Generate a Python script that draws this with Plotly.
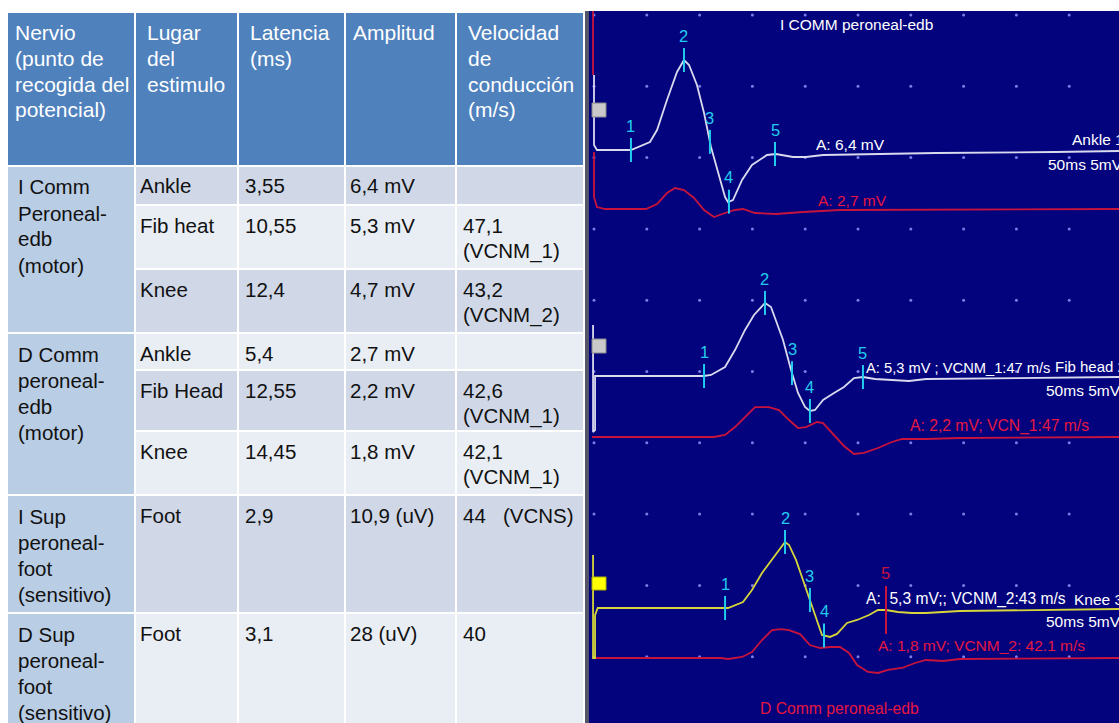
import numpy as np
import plotly.graph_objects as go

W, H = 1119, 723
FONT = "Liberation Sans, Arial, sans-serif"

# ---------------- Table data ----------------
header_labels = ["Nervio\n(punto de\nrecogida del\npotencial)", "Lugar\ndel\nestimulo",
                 "Latencia\n(ms)", "Amplitud", "Velocidad\nde\nconducción\n(m/s)"]
nerve_groups = ["I Comm\nPeroneal-\nedb\n(motor)", "D Comm\nperoneal-\nedb\n(motor)",
                "I Sup\nperoneal-\nfoot\n(sensitivo)", "D Sup\nperoneal-\nfoot\n(sensitivo)"]
group_sizes = [3, 3, 1, 1]
stim_sites = ["Ankle", "Fib heat", "Knee", "Ankle", "Fib Head", "Knee", "Foot", "Foot"]
latency_ms = ["3,55", "10,55", "12,4", "5,4", "12,55", "14,45", "2,9", "3,1"]
amplitude = ["6,4 mV", "5,3 mV", "4,7 mV", "2,7 mV", "2,2 mV", "1,8 mV", "10,9 (uV)", "28 (uV)"]
velocity = ["", "47,1\n(VCNM_1)", "43,2\n(VCNM_2)", "", "42,6\n(VCNM_1)", "42,1\n(VCNM_1)",
            "44\u00a0\u00a0\u00a0(VCNS)", "40"]

# ---------------- EMG traces: time (ms), amplitude (mV, relative to baseline) ----------------
# I COMM peroneal-edb, Ankle (white)
w1_art_t = [0.0, 0.0]
w1_art_v = [5.26, 0.35]
w1_t = [0.28, 3.50, 5.30, 5.97, 6.91, 7.86, 8.52, 9.00, 9.75, 10.42, 11.08, 11.74, 12.41, 12.69,
        13.16, 14.02, 14.96, 16.38, 17.23, 18.84, 20.08, 21.69, 27.56, 32.39, 43.66, 49.72]
w1_v = [0.0, 0.0, 0.56, 1.40, 3.51, 5.47, 6.31, 5.96, 4.56, 2.59, 0.21, -1.61, -3.30, -3.65,
        -3.51, -2.10, -1.05, -0.35, -0.28, -0.49, -0.49, -0.35, -0.28, -0.21, -0.14, -0.07]
w1_marks = [3.50, 8.52, 10.98, 12.78, 17.14]

# D Comm peroneal-edb, Ankle (red)
r1_top_t = [-0.09, -0.09]
r1_top_v = [13.88, 9.40]
r1_art_t = [0.0, 0.0, 0.28]
r1_art_v = [4.0, 0.84, 0.14]
r1_t = [1.04, 4.92, 5.97, 6.91, 7.67, 8.52, 9.47, 10.42, 11.36, 12.41, 13.35, 14.11, 15.25,
        17.23, 19.79, 23.30, 49.72]
r1_v = [0.0, 0.0, 0.35, 1.12, 1.47, 1.33, 0.77, -0.07, -0.56, -0.28, -0.07, 0.0, -0.28,
        -0.35, -0.21, -0.07, 0.0]

# I COMM, Fib head (white)
w2_art_t = [-0.09, -0.09, 0.10, 0.10]
w2_art_v = [3.58, -3.93, -3.80, 0.0]
w2_t = [0.30, 10.42, 11.08, 12.41, 13.35, 14.30, 15.15, 15.72, 16.19, 16.76, 17.23, 17.90, 18.66,
        19.32, 19.98, 20.45, 20.93, 21.69, 22.73, 23.67, 24.62, 25.47, 26.61, 28.22, 29.83,
        31.44, 49.72]
w2_v = [0.0, 0.0, 0.07, 0.63, 1.82, 3.23, 4.28, 4.77, 5.12, 4.84, 3.93, 2.52, 0.42,
        -1.19, -2.17, -2.45, -2.38, -1.68, -1.19, -0.77, -0.14, -0.07, -0.21, -0.28, -0.35,
        -0.21, -0.07]
w2_marks = [10.42, 16.19, 18.75, 20.45, 25.47]

# D Comm, Fib head (red)
r2_t = [-0.19, 10.13, 11.36, 12.41, 13.35, 14.30, 15.25, 16.57, 17.52, 18.47, 19.32, 20.08,
        21.12, 21.69, 22.73, 23.67, 24.62, 25.57, 26.89, 28.22, 29.17, 31.44, 34.66, 49.72]
r2_v = [0.0, 0.0, 0.0, 0.14, 0.70, 1.40, 2.10, 2.10, 1.89, 1.19, 0.63, 0.70,
        1.05, 0.98, 0.14, -0.63, -1.19, -1.12, -0.77, -0.35, -0.14, -0.14, -0.07, 0.0]

# I COMM, Knee (yellow)
y3_art_t = [-0.09, -0.09, 0.10, 0.10]
y3_art_v = [3.72, -3.51, -3.51, -0.50]
y3_t = [0.35, 12.41, 12.69, 14.11, 14.96, 15.91, 16.86, 17.71, 18.09, 18.47, 19.13, 19.79,
        20.45, 21.12, 21.59, 22.35, 23.01, 23.96, 24.91, 26.04, 26.89, 27.65, 28.79, 30.11,
        31.44, 34.66, 41.10, 49.72]
y3_v = [0.0, 0.0, 0.0, 0.42, 1.26, 2.45, 3.37, 4.21, 4.63, 4.42, 3.37, 1.96,
        0.56, -0.84, -1.89, -2.03, -1.82, -1.05, -0.84, -0.49, -0.14, -0.14, -0.28, -0.35,
        -0.35, -0.21, -0.14, -0.07]
y3_marks = [12.41, 18.09, 20.45, 21.78, 27.65]

# D Comm, Knee (red)
r3_t = [0.10, 12.03, 12.69, 14.02, 14.96, 15.91, 16.86, 17.71, 18.47, 19.51, 20.45, 21.40,
        22.35, 23.30, 24.15, 24.91, 25.95, 26.89, 27.84, 29.17, 30.40, 31.44, 33.05, 34.66, 49.72]
r3_v = [0.0, 0.0, -0.07, 0.07, 0.42, 1.26, 1.96, 2.03, 1.96, 1.68, 0.91, 0.70,
        0.77, 0.77, 0.35, -0.49, -0.98, -1.05, -0.84, -0.70, -0.35, -0.14, -0.21, -0.07, 0.0]

mark_labels = ["1", "2", "3", "4", "5"]

# ---------------- helpers ----------------
def PX(x):
    return x / W


def PY(y):
    return 1 - y / H


shapes = []
annotations = []


def rect(x0, y0, x1, y1, fill, line_color="white", lw=2):
    shapes.append(dict(type="rect", xref="paper", yref="paper",
                       x0=PX(x0), x1=PX(x1), y0=PY(y1), y1=PY(y0),
                       fillcolor=fill, line=dict(color=line_color, width=lw), layer="above"))


def text_lines(s, x, y_first, spacing, size, color):
    for i, line in enumerate(s.split("\n")):
        if not line:
            continue
        annotations.append(dict(xref="paper", yref="paper", x=PX(x), y=PY(y_first + i * spacing),
                                text=line, showarrow=False, xanchor="left", yanchor="middle",
                                font=dict(family=FONT, size=size, color=color)))


# ---------------- table ----------------
col_edges = [7, 135, 238, 345, 456, 584]
head_top, head_bot = 12, 166
row_edges = [166, 205, 269, 333, 370, 431, 495, 613, 724]
head_text_x = [13, 145, 248, 351, 466]
body_text_x = [16, 138, 243, 348, 461]
HEAD_BLUE = "#4F81BD"
GROUP_BLUE = "#B9CDE5"
STRIPES = ["#D0D8E8", "#E9EDF4"]

for i, lab in enumerate(header_labels):
    rect(col_edges[i], head_top, col_edges[i + 1], head_bot, HEAD_BLUE)
    text_lines(lab, head_text_x[i], head_top + 21, 25.5, 21, "white")

r = 0
for g, size in enumerate(group_sizes):
    rect(col_edges[0], row_edges[r], col_edges[1], row_edges[r + size], GROUP_BLUE)
    text_lines(nerve_groups[g], body_text_x[0], row_edges[r] + 21, 26, 20.5, "#111111")
    r += size

cols = [stim_sites, latency_ms, amplitude, velocity]
for k in range(len(stim_sites)):
    fill = STRIPES[k % 2]
    for c in range(4):
        rect(col_edges[c + 1], row_edges[k], col_edges[c + 2], row_edges[k + 1], fill)
        text_lines(cols[c][k], body_text_x[c + 1], row_edges[k] + 20, 26, 20.5, "#111111")

# ---------------- EMG panel ----------------
NAVY = "#03037E"
WHITE_TR = "#DADAEE"
RED_TR = "#C8143C"
RED_TX = "#E5173F"
YEL_TR = "#D6D63A"
CYAN = "#22CCEE"

# pixel <-> data scale: 5 ms / 52.8 px, 5 mV / 71.3 px
x_rng = [(589 - 594) / 10.56, (1119 - 594) / 10.56]
y_rng = [-(723 - 15) / 14.26, (15 - 11) / 14.26]

off = {"w1": (15 - 150) / 14.26, "r1": (15 - 209) / 14.26, "w2": (15 - 376) / 14.26,
       "r2": (15 - 437) / 14.26, "y3": (15 - 608) / 14.26, "r3": (15 - 658) / 14.26}

fig = go.Figure()

gx, gy = np.meshgrid(np.arange(0, 51, 5), np.arange(0, -51, -5))
fig.add_trace(go.Scatter(x=gx.ravel(), y=gy.ravel(), mode="markers",
                         marker=dict(size=3, color="#7C7CE6"), hoverinfo="skip"))


def add_line(t, v, offset, color, width=1.8):
    fig.add_trace(go.Scatter(x=list(t), y=list(np.array(v, dtype=float) + offset), mode="lines",
                             line=dict(color=color, width=width), hoverinfo="skip"))


add_line(r1_top_t, r1_top_v, off["r1"], RED_TR)
add_line(r1_art_t + r1_t, r1_art_v + r1_v, off["r1"], RED_TR)
add_line(w1_art_t + w1_t, w1_art_v + w1_v, off["w1"], WHITE_TR)
add_line(r2_t, r2_v, off["r2"], RED_TR)
add_line(w2_art_t + w2_t, w2_art_v + w2_v, off["w2"], WHITE_TR)
add_line(r3_t, r3_v, off["r3"], RED_TR)
add_line(y3_art_t + y3_t, y3_art_v + y3_v, off["y3"], YEL_TR)


def add_marks(times, t, v, offset, colors, halves, dys):
    for tm, lab, col, half, dy in zip(times, mark_labels, colors, halves, dys):
        yv = float(np.interp(tm, t, v)) + offset
        fig.add_trace(go.Scatter(x=[tm, tm], y=[yv - half, yv + half], mode="lines",
                                 line=dict(color=col, width=2), hoverinfo="skip"))
        annotations.append(dict(xref="x", yref="y", x=tm, y=yv + dy, text=lab, showarrow=False,
                                xanchor="center", yanchor="middle",
                                font=dict(family=FONT, size=16.5, color=col)))


add_marks(w1_marks, w1_t, w1_v, off["w1"], [CYAN] * 5, [0.84] * 5, [1.7] * 5)
add_marks(w2_marks, w2_t, w2_v, off["w2"], [CYAN] * 5, [0.84] * 5, [1.7] * 5)
add_marks(y3_marks, y3_t, y3_v, off["y3"], [CYAN] * 4 + [RED_TR], [0.84] * 4 + [1.68],
          [1.7] * 4 + [2.6])

# panel border and channel squares
rect(585, 11, 589, 724, "#55556A", line_color="#55556A", lw=0)
rect(592, 103, 606, 117, "#C9C9C9", line_color="#8A8A8A", lw=1)
rect(592, 339, 606, 353, "#C9C9C9", line_color="#8A8A8A", lw=1)
rect(592, 577, 606, 590, "#FFFF00", line_color="#B0B000", lw=1)

panel_texts = [
    ("I COMM peroneal-edb", 778, 25, "white", 15.5),
    ("A: 6,4 mV", 814, 145, "white", 15.5),
    ("Ankle 1", 1070, 140, "white", 15.5),
    ("50ms 5mV", 1046, 165, "white", 15.5),
    ("A: 2,7 mV", 816, 200, RED_TX, 15.5),
    ("A: 5,3 mV ; VCNM_1:47 m/s", 864, 368, "white", 14.7),
    ("Fib head 2", 1053, 366, "white", 15),
    ("50ms 5mV", 1044, 390, "white", 15.5),
    ("A: 2,2 mV; VCN_1:47 m/s", 908, 426, RED_TX, 15.7),
    ("A:\u00a0\u00a05,3 mV;; VCNM_2:43 m/s", 864, 599, "white", 15.6),
    ("Knee 3", 1072, 599, "white", 15.5),
    ("50ms 5mV", 1044, 621, "white", 15.5),
    ("A: 1,8 mV; VCNM_2: 42.1 m/s", 876, 645, RED_TX, 15.5),
    ("D Comm peroneal-edb", 758, 708, RED_TX, 15.7),
]
for s, x, y, col, sz in panel_texts:
    text_lines(s, x, y, 20, sz, col)

fig.update_layout(
    width=W, height=H, margin=dict(l=0, r=0, t=0, b=0),
    paper_bgcolor="white", plot_bgcolor=NAVY, showlegend=False,
    xaxis=dict(domain=[589 / W, 1], range=x_rng, showgrid=False, zeroline=False,
               showticklabels=False, ticks="", fixedrange=True),
    yaxis=dict(domain=[0, 1 - 11 / H], range=y_rng, showgrid=False, zeroline=False,
               showticklabels=False, ticks="", fixedrange=True),
    shapes=shapes, annotations=annotations,
)

fig.write_html("out.html", config={"displayModeBar": False},
               post_script="document.body.style.margin='0';document.body.style.overflow='hidden';")
